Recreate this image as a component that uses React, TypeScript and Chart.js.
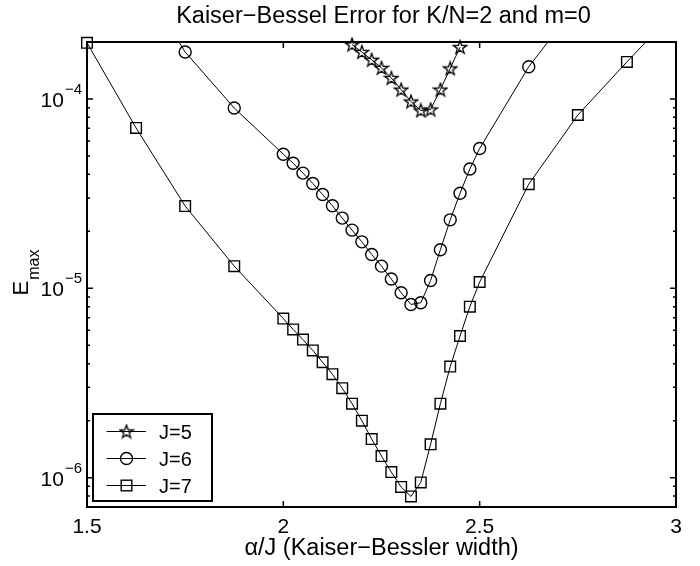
import React, { useEffect, useRef } from "react";
import { Chart, registerables } from "chart.js";

Chart.register(...registerables);

const TITLE = "Kaiser\u2212Bessel Error for K/N=2 and m=0";
const X_LABEL = "\u03b1/J (Kaiser\u2212Bessler width)";
const Y_LABEL_MAIN = "E";
const Y_LABEL_SUB = "max";

const X_MIN = 1.5;
const X_MAX = 3;
const Y_MIN = 7e-7;
const Y_MAX = 2e-4;

const xTicks = [1.5, 2, 2.5, 3];
const xTickLabels = ["1.5", "2", "2.5", "3"];
const yTicks = [1e-6, 1e-5, 1e-4];
const yTickExponents = ["\u22126", "\u22125", "\u22124"];
const yMinorTicks = [
  7e-7, 8e-7, 9e-7,
  2e-6, 3e-6, 4e-6, 5e-6, 6e-6, 7e-6, 8e-6, 9e-6,
  2e-5, 3e-5, 4e-5, 5e-5, 6e-5, 7e-5, 8e-5, 9e-5,
];

const seriesNames = ["J=5", "J=6", "J=7"];

const j5Alpha = [2.175, 2.2, 2.225, 2.25, 2.275, 2.3, 2.325, 2.35, 2.375, 2.4, 2.425, 2.45];
const j5Emax = [1.94e-4, 1.77e-4, 1.61e-4, 1.46e-4, 1.29e-4, 1.12e-4, 9.7e-5, 8.7e-5, 8.8e-5, 1.12e-4, 1.45e-4, 1.88e-4];

const j6Alpha = [
  1.625, 1.75, 1.875, 2.0, 2.025, 2.05, 2.075, 2.1, 2.125, 2.15, 2.175, 2.2, 2.225,
  2.25, 2.275, 2.3, 2.325, 2.35, 2.375, 2.4, 2.425, 2.45, 2.475, 2.5, 2.625, 2.75,
];
const j6Emax = [
  4.7e-4, 1.77e-4, 8.96e-5, 5.11e-5, 4.58e-5, 4.06e-5, 3.58e-5, 3.13e-5, 2.73e-5, 2.35e-5,
  2.03e-5, 1.76e-5, 1.51e-5, 1.31e-5, 1.12e-5, 9.48e-6, 8.22e-6, 8.39e-6, 1.1e-5, 1.6e-5,
  2.3e-5, 3.18e-5, 4.27e-5, 5.48e-5, 1.48e-4, 3.2e-4,
];

const j7Alpha = [
  1.5, 1.625, 1.75, 1.875, 2.0, 2.025, 2.05, 2.075, 2.1, 2.125, 2.15, 2.175, 2.2, 2.225,
  2.25, 2.275, 2.3, 2.325, 2.35, 2.375, 2.4, 2.425, 2.45, 2.475, 2.5, 2.625, 2.75, 2.875, 3.0,
];
const j7Emax = [
  1.98e-4, 7.03e-5, 2.72e-5, 1.31e-5, 6.92e-6, 6.07e-6, 5.36e-6, 4.7e-6, 4.07e-6, 3.52e-6,
  2.97e-6, 2.46e-6, 2.0e-6, 1.6e-6, 1.3e-6, 1.07e-6, 8.93e-7, 7.96e-7, 9.44e-7, 1.5e-6,
  2.46e-6, 3.86e-6, 5.6e-6, 8.0e-6, 1.08e-5, 3.55e-5, 8.23e-5, 1.57e-4, 2.94e-4,
];

const FONT = '"Liberation Sans", Arial, Helvetica, sans-serif';

function makeStar(size: number): HTMLCanvasElement {
  const c = document.createElement("canvas");
  c.width = size;
  c.height = size;
  const ctx = c.getContext("2d")!;
  const cx = size / 2;
  const cy = size / 2 + 0.5;
  const R = size / 2 - 1;
  const r = R * 0.4;
  ctx.beginPath();
  for (let i = 0; i < 10; i++) {
    const a = -Math.PI / 2 + (i * Math.PI) / 5;
    const rad = i % 2 ? r : R;
    const px = cx + rad * Math.cos(a);
    const py = cy + rad * Math.sin(a);
    if (i === 0) ctx.moveTo(px, py);
    else ctx.lineTo(px, py);
  }
  ctx.closePath();
  ctx.lineWidth = 1.3;
  ctx.strokeStyle = "#000";
  ctx.stroke();
  return c;
}

export default function App() {
  const ref = useRef<HTMLCanvasElement>(null);

  useEffect(() => {
    document.body.style.margin = "0";
    const canvas = ref.current;
    if (!canvas) return;
    const star = makeStar(16);

    const series = [
      { name: seriesNames[0], xs: j5Alpha, ys: j5Emax, style: star as any, radius: 7 },
      { name: seriesNames[1], xs: j6Alpha, ys: j6Emax, style: "circle" as any, radius: 6 },
      { name: seriesNames[2], xs: j7Alpha, ys: j7Emax, style: "rect" as any, radius: 7.5 },
    ];

    const lineSets = series.map((s) => ({
      label: s.name,
      data: s.xs.map((x, i) => ({ x, y: s.ys[i] })),
      showLine: true,
      borderColor: "#000",
      borderWidth: 1,
      pointRadius: 0,
      pointHoverRadius: 0,
      clip: 0,
      order: 2,
    }));

    const markerSets = series.map((s) => ({
      label: s.name + " markers",
      data: s.xs
        .map((x, i) => ({ x, y: s.ys[i] }))
        .filter((p) => p.y >= Y_MIN && p.y <= Y_MAX && p.x >= X_MIN && p.x <= X_MAX),
      showLine: false,
      pointStyle: s.style,
      pointRadius: s.radius,
      pointHoverRadius: s.radius,
      pointBorderColor: "#000",
      pointBackgroundColor: "rgba(0,0,0,0)",
      pointBorderWidth: 1.4,
      clip: false as any,
      order: 1,
    }));

    const decor = {
      id: "decor",
      afterDatasetsDraw(chart: any) {
        const ctx = chart.ctx as CanvasRenderingContext2D;
        const { left, right, top, bottom } = chart.chartArea;
        const xs = chart.scales.x;
        const ys = chart.scales.y;
        ctx.save();
        ctx.strokeStyle = "#000";
        ctx.fillStyle = "#000";

        // ticks
        ctx.lineWidth = 1.5;
        ctx.beginPath();
        xTicks.forEach((v) => {
          const px = xs.getPixelForValue(v);
          ctx.moveTo(px, bottom);
          ctx.lineTo(px, bottom - 6);
          ctx.moveTo(px, top);
          ctx.lineTo(px, top + 6);
        });
        yTicks.forEach((v) => {
          const py = ys.getPixelForValue(v);
          ctx.moveTo(left, py);
          ctx.lineTo(left + 6, py);
          ctx.moveTo(right, py);
          ctx.lineTo(right - 6, py);
        });
        yMinorTicks.forEach((v) => {
          const py = ys.getPixelForValue(v);
          ctx.moveTo(left, py);
          ctx.lineTo(left + 3, py);
          ctx.moveTo(right, py);
          ctx.lineTo(right - 3, py);
        });
        ctx.stroke();

        // box
        ctx.lineWidth = 2;
        ctx.strokeRect(left, top, right - left, bottom - top);

        // x tick labels
        ctx.font = "21px " + FONT;
        ctx.textAlign = "center";
        ctx.textBaseline = "alphabetic";
        xTicks.forEach((v, i) => {
          ctx.fillText(xTickLabels[i], xs.getPixelForValue(v), bottom + 26);
        });

        // y tick labels 10^exp
        ctx.textAlign = "left";
        yTicks.forEach((v, i) => {
          const py = ys.getPixelForValue(v);
          ctx.font = "15px " + FONT;
          const supW = ctx.measureText(yTickExponents[i]).width;
          ctx.font = "21px " + FONT;
          const mainW = ctx.measureText("10").width;
          const xEnd = left - 5;
          ctx.fillText("10", xEnd - supW - mainW - 1, py + 8);
          ctx.font = "15px " + FONT;
          ctx.fillText(yTickExponents[i], xEnd - supW, py - 5);
        });

        // x label
        ctx.font = "23.5px " + FONT;
        ctx.textAlign = "center";
        ctx.fillText(X_LABEL, (left + right) / 2, bottom + 48);

        // title
        ctx.font = "23.5px " + FONT;
        ctx.fillText(TITLE, (left + right) / 2 + 2, top - 19);

        // y label with subscript
        ctx.save();
        ctx.textAlign = "left";
        ctx.font = "22px " + FONT;
        const eW = ctx.measureText(Y_LABEL_MAIN).width;
        ctx.font = "16px " + FONT;
        const sW = ctx.measureText(Y_LABEL_SUB).width;
        const total = eW + sW + 1;
        const cy = (top + bottom) / 2 - 2;
        ctx.translate(left - 59, cy + total / 2);
        ctx.rotate(-Math.PI / 2);
        ctx.font = "22px " + FONT;
        ctx.fillText(Y_LABEL_MAIN, 0, 0);
        ctx.font = "16px " + FONT;
        ctx.fillText(Y_LABEL_SUB, eW + 1, 11);
        ctx.restore();

        // legend
        const lx0 = left + 6;
        const ly1 = bottom - 6;
        const lx1 = lx0 + 119;
        const ly0 = ly1 - 87;
        ctx.fillStyle = "#fff";
        ctx.fillRect(lx0, ly0, lx1 - lx0, ly1 - ly0);
        ctx.lineWidth = 2;
        ctx.strokeRect(lx0, ly0, lx1 - lx0, ly1 - ly0);
        ctx.fillStyle = "#000";
        ctx.font = "20px " + FONT;
        ctx.textAlign = "left";
        series.forEach((s, i) => {
          const ry = ly0 + 17.5 + i * 27;
          const mx = lx0 + 33.5;
          ctx.lineWidth = 1;
          ctx.beginPath();
          ctx.moveTo(lx0 + 13.5, ry);
          ctx.lineTo(lx0 + 53, ry);
          ctx.stroke();
          ctx.lineWidth = 1.4;
          if (s.style === "circle") {
            ctx.beginPath();
            ctx.arc(mx, ry, 6, 0, Math.PI * 2);
            ctx.stroke();
          } else if (s.style === "rect") {
            const h = Math.SQRT1_2 * 7.5;
            ctx.strokeRect(mx - h, ry - h, 2 * h, 2 * h);
          } else {
            const img = s.style as HTMLCanvasElement;
            ctx.drawImage(img, mx - img.width / 2, ry - img.height / 2);
          }
          ctx.fillText(s.name, lx0 + 66, ry + 7.5);
        });
        ctx.restore();
      },
    };

    const chart = new Chart(canvas, {
      type: "scatter",
      data: { datasets: [...markerSets, ...lineSets] as any },
      options: {
        responsive: false,
        animation: false,
        devicePixelRatio: 1,
        layout: { padding: { left: 87, right: 24, top: 42, bottom: 59 } },
        plugins: {
          legend: { display: false },
          title: { display: false },
          tooltip: { enabled: false },
        },
        events: [],
        scales: {
          x: { type: "linear", min: X_MIN, max: X_MAX, display: false },
          y: { type: "logarithmic", min: Y_MIN, max: Y_MAX, display: false },
        },
      },
      plugins: [decor],
    });
    return () => chart.destroy();
  }, []);

  return (
    <div style={{ width: 700, height: 566, background: "#fff" }}>
      <canvas ref={ref} width={700} height={566} style={{ display: "block" }} />
    </div>
  );
}
